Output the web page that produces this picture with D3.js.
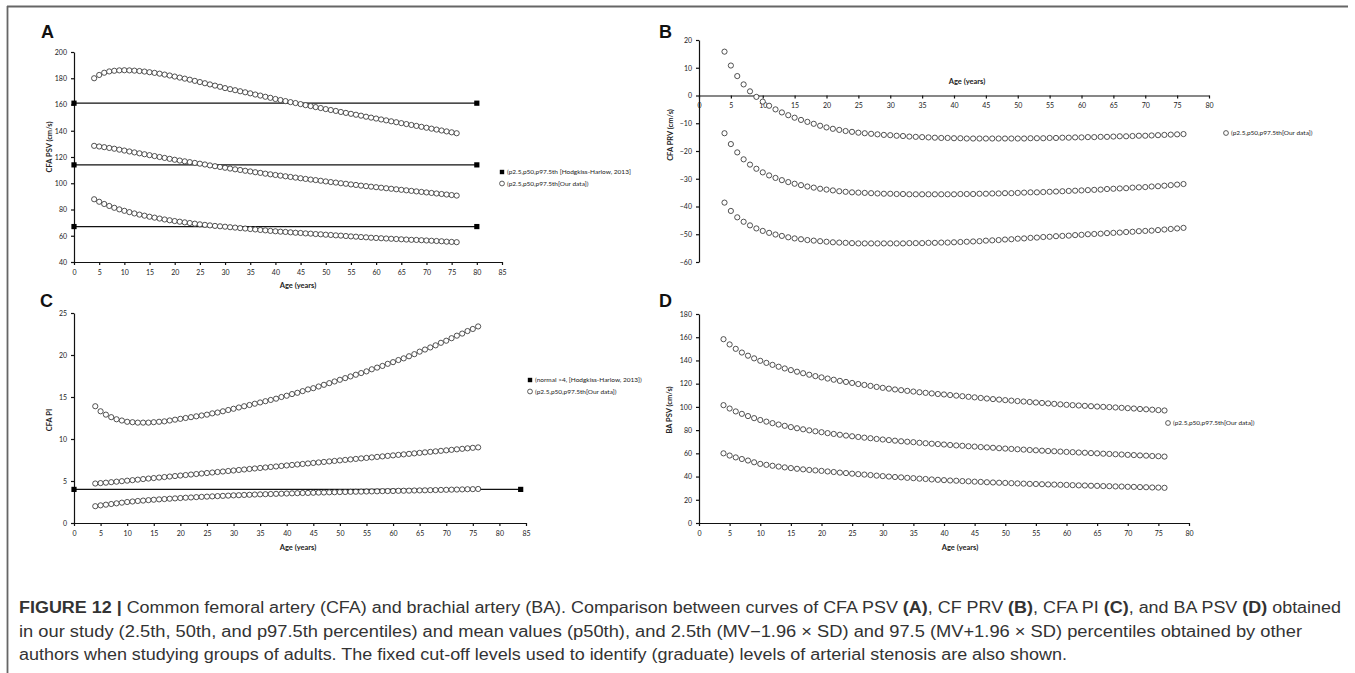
<!DOCTYPE html>
<html>
<head>
<meta charset="utf-8">
<script src="https://cdn.jsdelivr.net/npm/d3@7"></script>
<style>
  body { margin: 0; background: #fff; }
  svg { display: block; }
  .axis path, .axis line { stroke: #111; stroke-width: 1.2; }
  .axis text { font-family: Lato, "Open Sans", sans-serif; font-size: 7px; fill: #222; }
  .title { font-family: Lato, "Open Sans", sans-serif; font-weight: bold; font-size: 7.5px; fill: #222; }
  .legend { font-family: Lato, "Open Sans", sans-serif; font-size: 6.5px; fill: #222; }
  .letter { font-family: "Liberation Sans", Arial, sans-serif; font-weight: bold; font-size: 18px; fill: #111; }
  .caption { font-family: "Liberation Sans", Arial, sans-serif; font-size: 16px; fill: #333; }
</style>
</head>
<body>
<svg id="fig" width="1355" height="673"></svg>
<script>
// ages 4..76 (one point per year)
const ages = [4, 5, 6, 7, 8, 9, 10, 11, 12, 13,
  14, 15, 16, 17, 18, 19, 20, 21, 22, 23,
  24, 25, 26, 27, 28, 29, 30, 31, 32, 33,
  34, 35, 36, 37, 38, 39, 40, 41, 42, 43,
  44, 45, 46, 47, 48, 49, 50, 51, 52, 53,
  54, 55, 56, 57, 58, 59, 60, 61, 62, 63,
  64, 65, 66, 67, 68, 69, 70, 71, 72, 73,
  74, 75, 76];

// A - CFA PSV (cm/s), our data p97.5 / p50 / p2.5
const psvHigh = [180, 182.5, 184.2, 185.2, 185.7, 186, 186.1, 186, 185.8, 185.5,
  185.1, 184.6, 184.1, 183.5, 182.8, 182.1, 181.3, 180.5, 179.7, 178.9,
  178, 177.1, 176.2, 175.3, 174.4, 173.5, 172.5, 171.7, 170.9, 170.1,
  169.3, 168.5, 167.6, 166.8, 165.9, 165.1, 164.2, 163.4, 162.6, 161.8,
  161.1, 160.3, 159.5, 158.8, 158, 157.3, 156.5, 155.8, 155.1, 154.3,
  153.6, 152.9, 152.2, 151.5, 150.7, 150, 149.3, 148.6, 147.9, 147.2,
  146.5, 145.8, 145.1, 144.4, 143.7, 143, 142.3, 141.6, 140.9, 140.2,
  139.5, 138.8, 138.1];
const psvMid = [128.5, 128, 127.5, 126.9, 126.3, 125.6, 124.9, 124.2, 123.5, 122.8,
  122.1, 121.4, 120.7, 120, 119.3, 118.6, 117.9, 117.3, 116.7, 116.1,
  115.5, 114.9, 114.3, 113.6, 113, 112.4, 111.8, 111.2, 110.6, 110.1,
  109.5, 109, 108.4, 107.9, 107.3, 106.8, 106.3, 105.8, 105.3, 104.8,
  104.3, 103.8, 103.3, 102.8, 102.4, 101.9, 101.4, 100.9, 100.5, 100,
  99.6, 99.1, 98.7, 98.2, 97.8, 97.4, 97, 96.6, 96.2, 95.8,
  95.4, 95, 94.6, 94.2, 93.8, 93.4, 93, 92.6, 92.2, 91.8,
  91.4, 91, 90.6];
const psvLow = [87.8, 85.9, 84.2, 82.7, 81.3, 80.1, 79, 78, 77, 76.1,
  75.3, 74.5, 73.8, 73.1, 72.4, 71.8, 71.2, 70.7, 70.2, 69.7,
  69.2, 68.7, 68.3, 67.9, 67.5, 67.2, 66.9, 66.5, 66.2, 65.8,
  65.5, 65.1, 64.8, 64.4, 64.1, 63.7, 63.4, 63.1, 62.9, 62.6,
  62.3, 62.1, 61.8, 61.6, 61.3, 61.1, 60.8, 60.6, 60.3, 60.1,
  59.8, 59.5, 59.3, 59, 58.8, 58.5, 58.3, 58.1, 57.9, 57.7,
  57.5, 57.3, 57.1, 56.9, 56.8, 56.6, 56.4, 56.2, 56, 55.8,
  55.5, 55.3, 55.1];
// Hodgkiss-Harlow 2013 p97.5 / p50 / p2.5
const psvRef = [161, 114, 67];
const psvRefAges = [0, 80];

// B - CFA PRV (cm/s)
const prvHigh = [15.8, 10.8, 7, 4, 1.5, -0.5, -2.2, -3.7, -5, -6.1,
  -7.1, -8, -8.8, -9.5, -10.2, -10.9, -11.5, -12, -12.4, -12.8,
  -13.1, -13.4, -13.6, -13.8, -14, -14.2, -14.3, -14.5, -14.6, -14.8,
  -14.9, -15, -15.1, -15.2, -15.3, -15.3, -15.4, -15.4, -15.5, -15.5,
  -15.5, -15.5, -15.5, -15.5, -15.5, -15.5, -15.5, -15.5, -15.4, -15.4,
  -15.4, -15.3, -15.3, -15.2, -15.2, -15.1, -15.1, -15, -15, -14.9,
  -14.9, -14.8, -14.7, -14.7, -14.6, -14.5, -14.5, -14.4, -14.3, -14.2,
  -14.1, -14, -13.9];
const prvMid = [-13.6, -17.5, -20.5, -23, -24.9, -26.4, -27.7, -28.8, -29.7, -30.5,
  -31.2, -31.8, -32.3, -32.8, -33.2, -33.6, -33.9, -34.2, -34.5, -34.7,
  -34.9, -35, -35.1, -35.2, -35.3, -35.4, -35.4, -35.5, -35.5, -35.6,
  -35.6, -35.6, -35.6, -35.6, -35.6, -35.6, -35.6, -35.5, -35.5, -35.5,
  -35.4, -35.4, -35.3, -35.3, -35.2, -35.2, -35.1, -35, -34.9, -34.9,
  -34.8, -34.7, -34.6, -34.5, -34.4, -34.3, -34.2, -34.1, -34, -33.9,
  -33.7, -33.6, -33.5, -33.4, -33.2, -33.1, -33, -32.8, -32.7, -32.5,
  -32.3, -32.1, -31.9];
const prvLow = [-38.6, -41.6, -43.9, -45.5, -46.8, -47.9, -48.8, -49.5, -50.1, -50.6,
  -51.1, -51.5, -51.8, -52.1, -52.3, -52.5, -52.7, -52.9, -53, -53.1,
  -53.2, -53.3, -53.3, -53.3, -53.3, -53.3, -53.3, -53.3, -53.3, -53.2,
  -53.2, -53.2, -53.1, -53.1, -53, -53, -52.9, -52.8, -52.7, -52.6,
  -52.5, -52.3, -52.2, -52.1, -51.9, -51.8, -51.6, -51.5, -51.3, -51.2,
  -51, -50.9, -50.7, -50.6, -50.5, -50.3, -50.2, -50, -49.9, -49.8,
  -49.6, -49.5, -49.4, -49.2, -49.1, -48.9, -48.8, -48.7, -48.5, -48.3,
  -48.1, -47.9, -47.7];

// C - CFA PI
const piHigh = [13.9, 13.3, 12.9, 12.6, 12.35, 12.2, 12.05, 12, 11.95, 11.95,
  11.95, 12, 12.05, 12.1, 12.2, 12.3, 12.4, 12.5, 12.6, 12.7,
  12.8, 12.9, 13.05, 13.15, 13.3, 13.45, 13.6, 13.75, 13.9, 14.05,
  14.2, 14.35, 14.5, 14.65, 14.8, 15, 15.15, 15.35, 15.5, 15.7,
  15.9, 16.05, 16.25, 16.45, 16.65, 16.85, 17.05, 17.25, 17.45, 17.65,
  17.85, 18.05, 18.3, 18.5, 18.7, 18.95, 19.15, 19.4, 19.6, 19.85,
  20.1, 20.4, 20.65, 20.9, 21.15, 21.45, 21.7, 22, 22.3, 22.55,
  22.85, 23.1, 23.4];
const piMid = [4.7, 4.75, 4.8, 4.86, 4.92, 4.98, 5.04, 5.1, 5.16, 5.23,
  5.29, 5.35, 5.41, 5.47, 5.53, 5.59, 5.65, 5.71, 5.77, 5.83,
  5.89, 5.95, 6.01, 6.07, 6.13, 6.19, 6.25, 6.31, 6.37, 6.43,
  6.49, 6.55, 6.61, 6.67, 6.73, 6.79, 6.85, 6.91, 6.97, 7.03,
  7.09, 7.15, 7.21, 7.27, 7.33, 7.39, 7.45, 7.51, 7.57, 7.63,
  7.69, 7.75, 7.81, 7.87, 7.93, 7.99, 8.05, 8.11, 8.17, 8.23,
  8.29, 8.35, 8.41, 8.47, 8.53, 8.59, 8.65, 8.71, 8.77, 8.83,
  8.89, 8.95, 9.0];
const piLow = [2, 2.1, 2.18, 2.26, 2.34, 2.42, 2.5, 2.56, 2.62, 2.67,
  2.72, 2.77, 2.81, 2.85, 2.89, 2.93, 2.97, 3.01, 3.04, 3.08,
  3.11, 3.14, 3.17, 3.2, 3.23, 3.26, 3.29, 3.31, 3.34, 3.36,
  3.39, 3.41, 3.43, 3.45, 3.47, 3.49, 3.51, 3.53, 3.55, 3.57,
  3.58, 3.6, 3.62, 3.63, 3.65, 3.66, 3.68, 3.69, 3.71, 3.72,
  3.73, 3.75, 3.76, 3.77, 3.79, 3.8, 3.81, 3.83, 3.84, 3.85,
  3.87, 3.88, 3.89, 3.91, 3.92, 3.94, 3.95, 3.97, 3.98, 4,
  4.02, 4.03, 4.05];
// normal > 4
const piRef = [4];
const piRefAges = [0, 84];

// D - BA PSV (cm/s)
const baHigh = [158.3, 153.8, 150, 146.8, 144.1, 141.8, 139.7, 137.9, 136.2, 134.6,
  133.1, 131.7, 130.3, 129, 127.7, 126.5, 125.4, 124.4, 123.4, 122.4,
  121.5, 120.6, 119.7, 118.9, 118.1, 117.2, 116.4, 115.7, 115, 114.4,
  113.8, 113.2, 112.6, 112.1, 111.6, 111.1, 110.7, 110.2, 109.7, 109.2,
  108.7, 108.2, 107.7, 107.2, 106.7, 106.3, 105.8, 105.4, 105, 104.6,
  104.2, 103.8, 103.4, 103, 102.6, 102.2, 101.8, 101.5, 101.2, 100.9,
  100.6, 100.3, 100, 99.8, 99.5, 99.2, 98.9, 98.6, 98.2, 97.9,
  97.6, 97.2, 96.9];
const baMid = [101.5, 98.6, 96.1, 94, 92.1, 90.3, 88.7, 87.3, 86, 84.8,
  83.7, 82.6, 81.6, 80.7, 79.8, 79, 78.2, 77.4, 76.7, 76,
  75.3, 74.7, 74.1, 73.5, 73, 72.4, 71.9, 71.4, 70.9, 70.4,
  70, 69.6, 69.1, 68.7, 68.3, 68, 67.6, 67.2, 66.8, 66.5,
  66.1, 65.8, 65.4, 65.1, 64.8, 64.4, 64.1, 63.8, 63.5, 63.2,
  62.9, 62.6, 62.3, 62, 61.8, 61.5, 61.2, 61, 60.7, 60.5,
  60.2, 60, 59.7, 59.5, 59.2, 59, 58.7, 58.5, 58.2, 58,
  57.7, 57.5, 57.2];
const baLow = [60, 58.1, 56.5, 55.1, 53.8, 52.3, 50.9, 50.1, 49.3, 48.6,
  47.9, 47.3, 46.7, 46.2, 45.7, 45.3, 44.9, 44.4, 43.9, 43.4,
  43, 42.5, 42.1, 41.7, 41.3, 40.8, 40.4, 40, 39.6, 39.3,
  38.9, 38.6, 38.2, 37.9, 37.5, 37.2, 36.9, 36.6, 36.4, 36.1,
  35.9, 35.6, 35.4, 35.1, 34.9, 34.7, 34.5, 34.3, 34.1, 33.9,
  33.7, 33.6, 33.4, 33.2, 33.1, 32.9, 32.8, 32.6, 32.4, 32.3,
  32.1, 32, 31.8, 31.7, 31.5, 31.4, 31.2, 31.1, 30.9, 30.8,
  30.6, 30.5, 30.3];

// tick values
const ticks85 = [0, 5, 10, 15, 20, 25, 30, 35, 40, 45, 50, 55, 60, 65, 70, 75, 80, 85];
const ticks80 = [0, 5, 10, 15, 20, 25, 30, 35, 40, 45, 50, 55, 60, 65, 70, 75, 80];
const ticksPsv = [40, 60, 80, 100, 120, 140, 160, 180, 200];
const ticksPrv = [-60, -50, -40, -30, -20, -10, 0, 10, 20];
const ticksPi = [0, 5, 10, 15, 20, 25];
const ticksBa = [0, 20, 40, 60, 80, 100, 120, 140, 160, 180];

const legendRefA = "(p2.5,p50,p97.5th [Hodgkiss-Harlow, 2013]";
const legendRefC = "(normal >4, [Hodgkiss-Harlow, 2013])";
const legendOurs = "(p2.5,p50,p97.5th[Our data])";

var svg = d3.select("#fig");

// frame of the figure
svg.append("line").attr("x1", 7).attr("x2", 1348).attr("y1", 6.5).attr("y2", 6.5)
  .attr("stroke", "#666").attr("stroke-width", 1.8);
svg.append("line").attr("x1", 7.5).attr("x2", 7.5).attr("y1", 6).attr("y2", 673)
  .attr("stroke", "#666").attr("stroke-width", 1.8);

function drawPanel(p) {
  var x = d3.scaleLinear().domain(p.xDomain).range(p.xRange);
  var y = d3.scaleLinear().domain(p.yDomain).range(p.yRange);
  var g = svg.append("g");

  // x axis (in B it crosses at 0)
  var xAxisY = p.xAt === undefined ? p.yRange[0] : y(p.xAt);
  g.append("g")
    .attr("class", "axis")
    .attr("transform", "translate(0," + xAxisY + ")")
    .call(d3.axisBottom(x).tickValues(p.xTicks).tickSize(3).tickSizeOuter(0).tickPadding(5));

  // y axis
  g.append("g")
    .attr("class", "axis")
    .attr("transform", "translate(" + p.xRange[0] + ",0)")
    .call(d3.axisLeft(y).tickValues(p.yTicks).tickSize(3).tickSizeOuter(0).tickPadding(4));

  // reference lines with square end markers
  if (p.refs) {
    p.refs.forEach(function (v) {
      g.append("line")
        .attr("x1", x(p.refAges[0])).attr("x2", x(p.refAges[1]))
        .attr("y1", y(v)).attr("y2", y(v))
        .attr("stroke", "#111").attr("stroke-width", 1.3);
      g.selectAll(null)
        .data(p.refAges)
        .enter()
        .append("rect")
        .attr("x", function (a) { return x(a) - 2.6; })
        .attr("y", y(v) - 2.6)
        .attr("width", 5.2).attr("height", 5.2)
        .attr("fill", "#000");
    });
  }

  // our data, open circles
  p.series.forEach(function (s) {
    g.selectAll(null)
      .data(ages)
      .enter()
      .append("circle")
      .attr("cx", function (a) { return x(a); })
      .attr("cy", function (a, i) { return y(s[i]); })
      .attr("r", 2.6)
      .attr("fill", "#fff")
      .attr("stroke", "#333")
      .attr("stroke-width", 0.85);
  });

  // axis titles
  g.append("text").attr("class", "title")
    .attr("x", p.xTitle[0]).attr("y", p.xTitle[1])
    .attr("text-anchor", "middle").attr("dy", "0.35em")
    .text("Age (years)");
  g.append("text").attr("class", "title")
    .attr("transform", "translate(" + p.yTitle[0] + "," + p.yTitle[1] + ") rotate(-90)")
    .attr("text-anchor", "middle").attr("dy", "0.35em")
    .text(p.yLabel);

  // panel letter
  g.append("text").attr("class", "letter")
    .attr("x", p.letterPos[0]).attr("y", p.letterPos[1])
    .text(p.letter);

  // legend
  var ly = p.legendPos[1];
  if (p.refLabel) {
    g.append("rect")
      .attr("x", p.legendPos[0] - 2.2).attr("y", ly - 2.2)
      .attr("width", 4.4).attr("height", 4.4).attr("fill", "#000");
    g.append("text").attr("class", "legend")
      .attr("x", p.legendPos[0] + 5).attr("y", ly).attr("dy", "0.35em")
      .text(p.refLabel);
    ly += 11.5;
  }
  g.append("circle")
    .attr("cx", p.legendPos[0]).attr("cy", ly).attr("r", 2.4)
    .attr("fill", "#fff").attr("stroke", "#333").attr("stroke-width", 0.8);
  g.append("text").attr("class", "legend")
    .attr("x", p.legendPos[0] + 5).attr("y", ly).attr("dy", "0.35em")
    .text(legendOurs);
}

drawPanel({
  letter: "A", letterPos: [41, 38],
  xDomain: [0, 85], xRange: [74, 502], xTicks: ticks85,
  yDomain: [40, 200], yRange: [262, 52], yTicks: ticksPsv,
  series: [psvHigh, psvMid, psvLow],
  refs: psvRef, refAges: psvRefAges, refLabel: legendRefA,
  legendPos: [502, 172],
  xTitle: [298, 285], yTitle: [49, 147], yLabel: "CFA PSV (cm/s)"
});

drawPanel({
  letter: "B", letterPos: [659, 38],
  xDomain: [0, 80], xRange: [699, 1209], xTicks: ticks80, xAt: 0,
  yDomain: [-60, 20], yRange: [262, 40], yTicks: ticksPrv,
  series: [prvHigh, prvMid, prvLow],
  legendPos: [1226, 133],
  xTitle: [967, 81], yTitle: [670, 135], yLabel: "CFA PRV (cm/s)"
});

drawPanel({
  letter: "C", letterPos: [40, 307],
  xDomain: [0, 85], xRange: [74, 526], xTicks: ticks85,
  yDomain: [0, 25], yRange: [523, 313], yTicks: ticksPi,
  series: [piHigh, piMid, piLow],
  refs: piRef, refAges: piRefAges, refLabel: legendRefC,
  legendPos: [530, 380],
  xTitle: [298, 547], yTitle: [49, 420], yLabel: "CFA PI"
});

drawPanel({
  letter: "D", letterPos: [659, 307],
  xDomain: [0, 80], xRange: [699, 1189], xTicks: ticks80,
  yDomain: [0, 180], yRange: [523, 314], yTicks: ticksBa,
  series: [baHigh, baMid, baLow],
  legendPos: [1168, 423],
  xTitle: [960, 547], yTitle: [669, 410], yLabel: "BA PSV (cm/s)"
});

// caption, three lines with bold runs
var captionLines = [
  { y: 613, len: 1322, parts: [["FIGURE 12 | ", true], ["Common femoral artery (CFA) and brachial artery (BA). Comparison between curves of CFA PSV ", false],
    ["(A)", true], [", CF PRV ", false], ["(B)", true], [", CFA PI ", false], ["(C)", true], [", and BA PSV ", false], ["(D)", true], [" obtained", false]] },
  { y: 637, len: 1283, parts: [["in our study (2.5th, 50th, and p97.5th percentiles) and mean values (p50th), and 2.5th (MV\u22121.96 \u00d7 SD) and 97.5 (MV+1.96 \u00d7 SD) percentiles obtained by other", false]] },
  { y: 660, len: 1048, parts: [["authors when studying groups of adults. The fixed cut-off levels used to identify (graduate) levels of arterial stenosis are also shown.", false]] }
];

captionLines.forEach(function (line) {
  var t = svg.append("text").attr("class", "caption")
    .attr("x", 19).attr("y", line.y)
    .attr("textLength", line.len)
    .attr("lengthAdjust", "spacingAndGlyphs");
  line.parts.forEach(function (part) {
    t.append("tspan")
      .style("font-weight", part[1] ? "bold" : "normal")
      .text(part[0]);
  });
});
</script>
</body>
</html>
